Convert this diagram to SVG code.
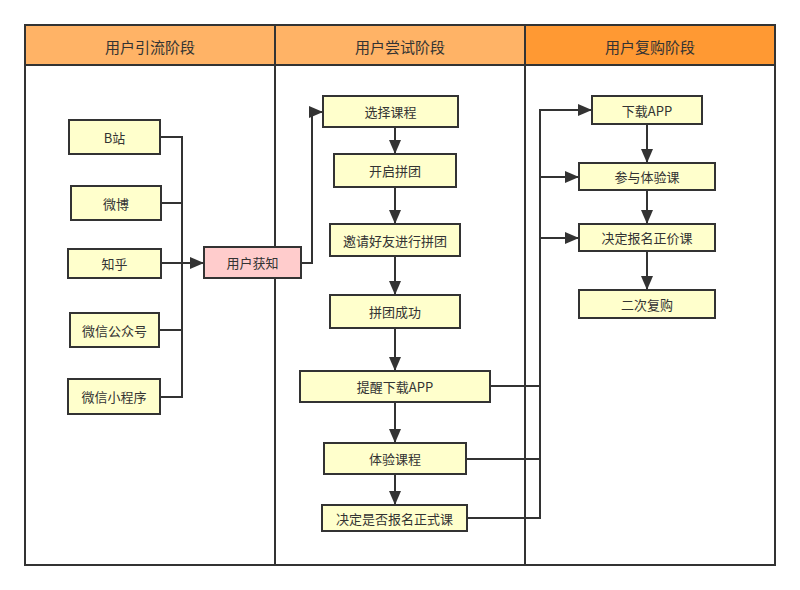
<svg xmlns="http://www.w3.org/2000/svg" width="800" height="590" viewBox="0 0 800 590">
<defs>
<marker id="arr" markerUnits="userSpaceOnUse" markerWidth="16" markerHeight="12" refX="14" refY="6" orient="auto">
<path d="M0,0 L14,6 L0,12 Z" fill="#333"/>
</marker>
<style>
.node rect{fill:#FFFFCC;stroke:#333;stroke-width:2}
.node text,.hdr text{font-family:"Noto Sans CJK SC","Liberation Sans",sans-serif;fill:#333;text-anchor:middle;dominant-baseline:central}
.node text{font-size:13px}
.hdr text{font-size:15px}
.conn path{fill:none;stroke:#333;stroke-width:2}
.frame{fill:none;stroke:#333;stroke-width:2}
</style>
</defs>
<rect width="800" height="590" fill="#fff"/>
<g id="lanes">
<g class="hdr" id="lane1"><rect x="25" y="25" width="250" height="40" fill="#FFB366" stroke="#333" stroke-width="2"/><text x="150" y="46">用户引流阶段</text></g>
<g class="hdr" id="lane2"><rect x="275" y="25" width="250" height="40" fill="#FFB366" stroke="#333" stroke-width="2"/><text x="400" y="46">用户尝试阶段</text></g>
<g class="hdr" id="lane3"><rect x="525" y="25" width="250" height="40" fill="#FF9933" stroke="#333" stroke-width="2"/><text x="650" y="46">用户复购阶段</text></g>
<rect class="frame" x="25" y="25" width="750" height="540"/>
<line x1="275" y1="65" x2="275" y2="565" stroke="#333" stroke-width="2"/>
<line x1="525" y1="65" x2="525" y2="565" stroke="#333" stroke-width="2"/>
</g>
<g class="conn" id="connectors">
<path d="M160,137 H182 V263"/>
<path d="M161,203 H182 V263"/>
<path d="M159,330 H182 V263"/>
<path d="M160,397 H182 V263"/>
<path d="M161,263 H204" marker-end="url(#arr)"/>
<path d="M301,263 H312 V112 H323" marker-end="url(#arr)"/>
<path d="M395,127 V154" marker-end="url(#arr)"/>
<path d="M395,187 V224" marker-end="url(#arr)"/>
<path d="M395,256 V295" marker-end="url(#arr)"/>
<path d="M395,328 V371" marker-end="url(#arr)"/>
<path d="M395,402 V443" marker-end="url(#arr)"/>
<path d="M395,474 V505" marker-end="url(#arr)"/>
<path d="M490,386 H540 V110 H592" marker-end="url(#arr)"/>
<path d="M466,459 H540 V177 H579" marker-end="url(#arr)"/>
<path d="M467,518 H540 V238 H579" marker-end="url(#arr)"/>
<path d="M647,124 V163" marker-end="url(#arr)"/>
<path d="M647,190 V224" marker-end="url(#arr)"/>
<path d="M647,251 V290" marker-end="url(#arr)"/>
</g>
<g class="node" id="n-bzhan"><rect x="69" y="120" width="91" height="34"/><text x="114.5" y="137">B站</text></g>
<g class="node" id="n-weibo"><rect x="71" y="186" width="90" height="34"/><text x="116" y="203">微博</text></g>
<g class="node" id="n-zhihu"><rect x="68" y="249" width="93" height="29"/><text x="114.5" y="263.5">知乎</text></g>
<g class="node" id="n-gzh"><rect x="70" y="313" width="89" height="34"/><text x="114.5" y="330">微信公众号</text></g>
<g class="node" id="n-xcx"><rect x="68" y="379" width="92" height="35"/><text x="114" y="396.5">微信小程序</text></g>
<g class="node" id="n-huozhi"><rect x="204" y="247" width="97" height="31" style="fill:#FFCCCC"/><text x="252.5" y="262.5">用户获知</text></g>
<g class="node" id="n-xuanze"><rect x="323" y="96" width="135" height="31"/><text x="390.5" y="111.5">选择课程</text></g>
<g class="node" id="n-kaiqi"><rect x="334" y="154" width="122" height="33"/><text x="395" y="170.5">开启拼团</text></g>
<g class="node" id="n-yaoqing"><rect x="330" y="224" width="130" height="32"/><text x="395" y="240">邀请好友进行拼团</text></g>
<g class="node" id="n-chenggong"><rect x="330" y="295" width="130" height="33"/><text x="395" y="311.5">拼团成功</text></g>
<g class="node" id="n-tixing"><rect x="300" y="371" width="190" height="31"/><text x="395" y="386.5">提醒下载APP</text></g>
<g class="node" id="n-tiyan"><rect x="324" y="443" width="142" height="31"/><text x="395" y="458.5">体验课程</text></g>
<g class="node" id="n-jueding"><rect x="322" y="505" width="145" height="26"/><text x="394.5" y="518">决定是否报名正式课</text></g>
<g class="node" id="n-xiazai"><rect x="592" y="96" width="110" height="28"/><text x="647" y="110">下载APP</text></g>
<g class="node" id="n-canyu"><rect x="579" y="163" width="136" height="27"/><text x="647" y="176.5">参与体验课</text></g>
<g class="node" id="n-zhengjia"><rect x="579" y="224" width="136" height="27"/><text x="647" y="237.5">决定报名正价课</text></g>
<g class="node" id="n-fugou"><rect x="579" y="290" width="136" height="28"/><text x="647" y="304">二次复购</text></g>
</svg>
